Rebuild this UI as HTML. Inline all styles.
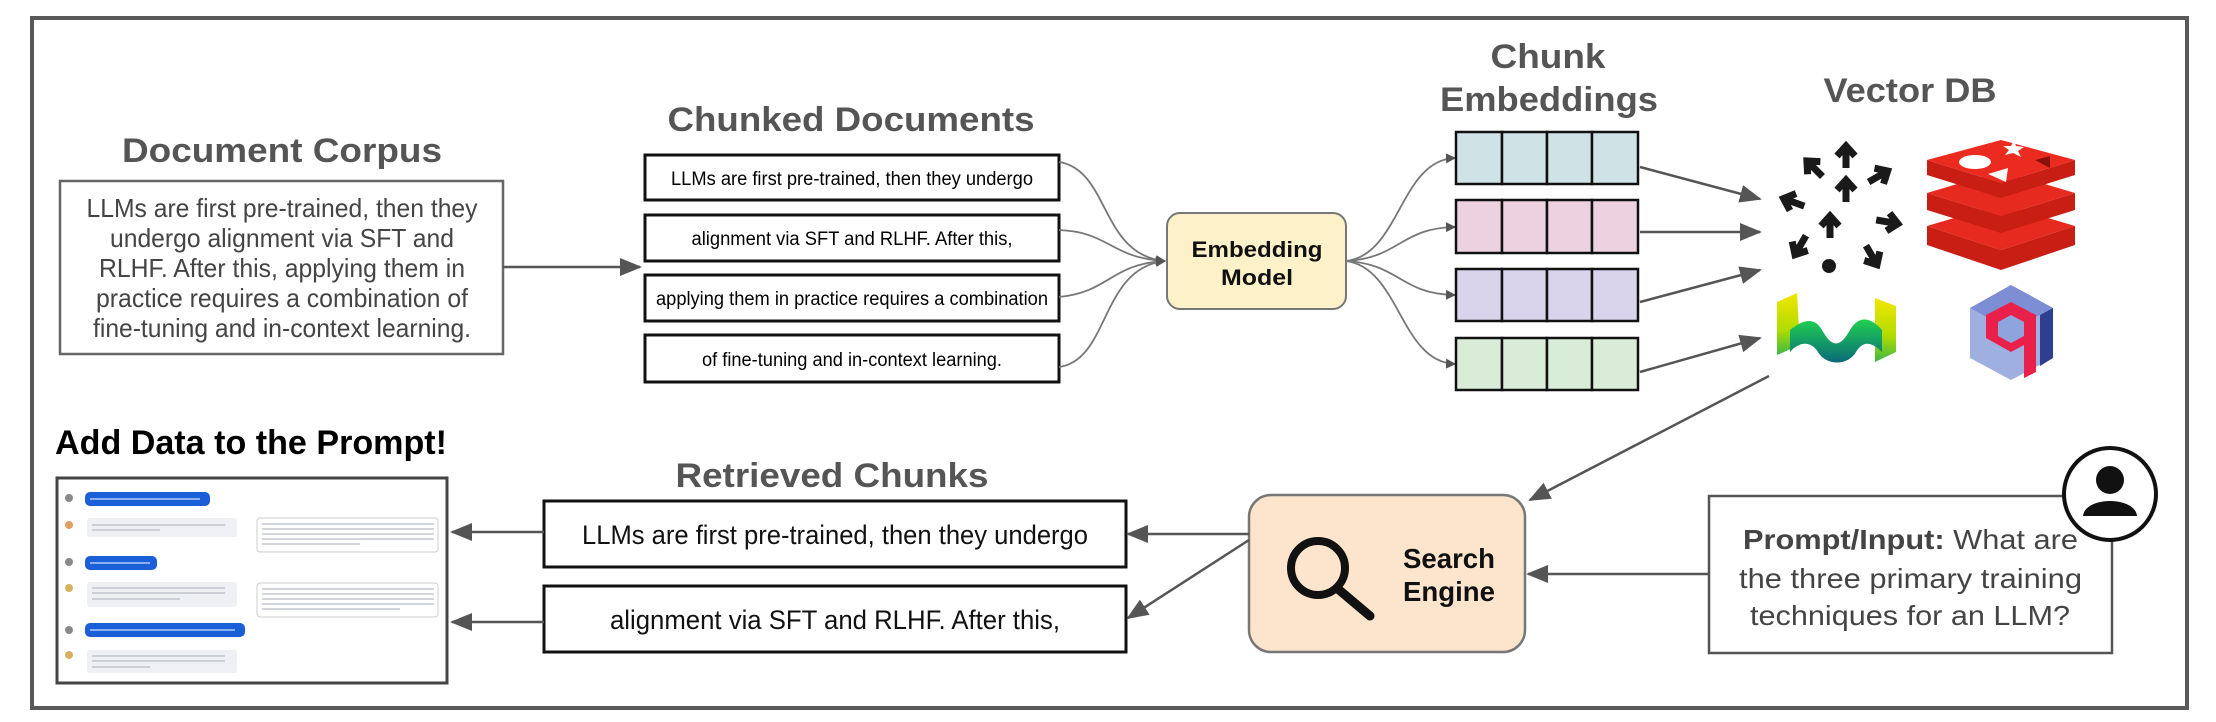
<!DOCTYPE html>
<html><head><meta charset="utf-8">
<style>
html,body{margin:0;padding:0;background:#fff;}
svg{display:block;}
text{font-family:"Liberation Sans",Arial,sans-serif;}
</style></head>
<body>
<svg width="2216" height="722" viewBox="0 0 2216 722" xmlns="http://www.w3.org/2000/svg">
<defs>
<marker id="ah" markerWidth="10" markerHeight="10" refX="9" refY="5" orient="auto" markerUnits="userSpaceOnUse"><path d="M0,0 L10,5 L0,10 z" fill="#555"/></marker>
<marker id="ahL" markerWidth="22" markerHeight="18" refX="20" refY="9" orient="auto" markerUnits="userSpaceOnUse"><path d="M0,0 L22,9 L0,18 z" fill="#555"/></marker>
<linearGradient id="wg" x1="0" y1="0" x2="0" y2="1"><stop offset="0" stop-color="#f2e600"/><stop offset="0.6" stop-color="#b0dc00"/><stop offset="1" stop-color="#3cb84a"/></linearGradient>
<linearGradient id="wg2" x1="0" y1="0" x2="0" y2="1"><stop offset="0" stop-color="#20d050"/><stop offset="1" stop-color="#0a6a7a"/></linearGradient>
<g id="arr"><path d="M0,12 L0,-8 M-9,0 L0,-10 L9,0" stroke="#1a1a1a" stroke-width="7" fill="none"/></g>
</defs>
<rect width="2216" height="722" fill="#fff"/>
<rect x="32" y="18" width="2155" height="690" fill="none" stroke="#595959" stroke-width="4"/>

<!-- Titles -->
<g font-weight="bold" fill="#555" font-size="34">
<text x="282" y="162" text-anchor="middle" textLength="320" lengthAdjust="spacingAndGlyphs">Document Corpus</text>
<text x="851" y="131" text-anchor="middle" textLength="367" lengthAdjust="spacingAndGlyphs">Chunked Documents</text>
<text x="1548" y="68" text-anchor="middle" textLength="115" lengthAdjust="spacingAndGlyphs">Chunk</text>
<text x="1549" y="111" text-anchor="middle" textLength="218" lengthAdjust="spacingAndGlyphs">Embeddings</text>
<text x="1910" y="102" text-anchor="middle" textLength="173" lengthAdjust="spacingAndGlyphs">Vector DB</text>
<text x="832" y="487" text-anchor="middle" textLength="313" lengthAdjust="spacingAndGlyphs">Retrieved Chunks</text>
</g>
<text x="55" y="454" font-weight="bold" fill="#000" font-size="34" textLength="392" lengthAdjust="spacingAndGlyphs">Add Data to the Prompt!</text>

<!-- Corpus box -->
<rect x="60" y="181" width="443" height="173" fill="#fff" stroke="#666" stroke-width="2.5"/>
<g fill="#444" font-size="26" text-anchor="middle">
<text x="282" y="217" textLength="391" lengthAdjust="spacingAndGlyphs">LLMs are first pre-trained, then they</text>
<text x="282" y="247" textLength="344" lengthAdjust="spacingAndGlyphs">undergo alignment via SFT and</text>
<text x="282" y="277" textLength="366" lengthAdjust="spacingAndGlyphs">RLHF. After this, applying them in</text>
<text x="282" y="307" textLength="372" lengthAdjust="spacingAndGlyphs">practice requires a combination of</text>
<text x="282" y="337" textLength="378" lengthAdjust="spacingAndGlyphs">fine-tuning and in-context learning.</text>
</g>
<line x1="503" y1="267" x2="640" y2="267" stroke="#555" stroke-width="2.5" marker-end="url(#ahL)"/>

<!-- Chunk boxes -->
<g fill="#fff" stroke="#111" stroke-width="3">
<rect x="645" y="155" width="414" height="45"/>
<rect x="645" y="215" width="414" height="46"/>
<rect x="645" y="275" width="414" height="46"/>
<rect x="645" y="335" width="414" height="47"/>
</g>
<g fill="#000" font-size="19" text-anchor="middle">
<text x="852" y="185" textLength="362" lengthAdjust="spacingAndGlyphs">LLMs are first pre-trained, then they undergo</text>
<text x="852" y="245" textLength="321" lengthAdjust="spacingAndGlyphs">alignment via SFT and RLHF. After this,</text>
<text x="852" y="305" textLength="392" lengthAdjust="spacingAndGlyphs">applying them in practice requires a combination</text>
<text x="852" y="366" textLength="300" lengthAdjust="spacingAndGlyphs">of fine-tuning and in-context learning.</text>
</g>
<g fill="none" stroke="#777" stroke-width="1.8">
<path d="M1059,162 C1110,170 1100,255 1165,261" marker-end="url(#ah)"/>
<path d="M1059,230 C1110,232 1110,258 1165,261" marker-end="url(#ah)"/>
<path d="M1059,297 C1110,292 1110,264 1165,261" marker-end="url(#ah)"/>
<path d="M1059,367 C1110,360 1100,268 1165,261" marker-end="url(#ah)"/>
</g>
<rect x="1167" y="213" width="179" height="96" rx="13" fill="#fdf1c9" stroke="#777" stroke-width="2"/>
<g font-weight="bold" font-size="22" text-anchor="middle" fill="#111">
<text x="1257" y="257" textLength="131" lengthAdjust="spacingAndGlyphs">Embedding</text>
<text x="1257" y="285" textLength="72" lengthAdjust="spacingAndGlyphs">Model</text>
</g>
<g fill="none" stroke="#777" stroke-width="1.8">
<path d="M1346,261 C1400,255 1400,160 1455,158" marker-end="url(#ah)"/>
<path d="M1346,261 C1400,258 1400,228 1455,227" marker-end="url(#ah)"/>
<path d="M1346,261 C1400,264 1400,294 1455,295" marker-end="url(#ah)"/>
<path d="M1346,261 C1400,268 1400,362 1455,364" marker-end="url(#ah)"/>
</g>
<g stroke="#111" stroke-width="2.5">
<g fill="#cfe3e7"><rect x="1456" y="132" width="46" height="52"/><rect x="1502" y="132" width="45" height="52"/><rect x="1547" y="132" width="45" height="52"/><rect x="1592" y="132" width="46" height="52"/></g>
<g fill="#ecd1de"><rect x="1456" y="200" width="46" height="53"/><rect x="1502" y="200" width="45" height="53"/><rect x="1547" y="200" width="45" height="53"/><rect x="1592" y="200" width="46" height="53"/></g>
<g fill="#dad3ec"><rect x="1456" y="269" width="46" height="52"/><rect x="1502" y="269" width="45" height="52"/><rect x="1547" y="269" width="45" height="52"/><rect x="1592" y="269" width="46" height="52"/></g>
<g fill="#d8ecd7"><rect x="1456" y="338" width="46" height="52"/><rect x="1502" y="338" width="45" height="52"/><rect x="1547" y="338" width="45" height="52"/><rect x="1592" y="338" width="46" height="52"/></g>
</g>
<g stroke="#555" stroke-width="2.5">
<line x1="1640" y1="167" x2="1760" y2="199" marker-end="url(#ahL)"/>
<line x1="1640" y1="232" x2="1760" y2="232" marker-end="url(#ahL)"/>
<line x1="1640" y1="302" x2="1760" y2="270" marker-end="url(#ahL)"/>
<line x1="1640" y1="372" x2="1760" y2="338" marker-end="url(#ahL)"/>
</g>

<!-- Graph-arrows icon -->
<use href="#arr" transform="translate(1846,156)"/>
<use href="#arr" transform="translate(1814,168) rotate(-45)"/>
<use href="#arr" transform="translate(1879,176) rotate(60)"/>
<use href="#arr" transform="translate(1793,202) rotate(-70)"/>
<use href="#arr" transform="translate(1846,190)"/>
<use href="#arr" transform="translate(1888,222) rotate(100)"/>
<use href="#arr" transform="translate(1830,226)"/>
<use href="#arr" transform="translate(1800,246) rotate(-150)"/>
<use href="#arr" transform="translate(1872,256) rotate(150)"/>
<circle cx="1829" cy="266" r="7" fill="#1a1a1a"/>

<!-- Redis -->
<g>
<path d="M1927,245 L2001,270 L2075,245 L2075,226 L2001,250 L1927,226 z" fill="#c81e14"/>
<path d="M1927,226 L2001,204 L2075,226 L2001,250 z" fill="#e62a1f"/>
<path d="M1927,210 L2001,233 L2075,210 L2075,193 L2001,216 L1927,193 z" fill="#c81e14"/>
<path d="M1927,193 L2001,171 L2075,193 L2001,216 z" fill="#e62a1f"/>
<path d="M1927,175 L2001,198 L2075,175 L2075,160 L2001,183 L1927,160 z" fill="#c81e14"/>
<path d="M1927,160 L2001,140 L2075,160 L2001,183 z" fill="#ec2b20"/>
<ellipse cx="1975" cy="162" rx="16" ry="7" fill="#fff"/>
<path d="M1988,174 L2008,168 L2006,182 z" fill="#fff"/>
<path d="M2005,155 L2009,150 L2003,146 L2011,146 L2014,140 L2016,146 L2024,147 L2018,151 L2021,157 L2013,153 z" fill="#fff"/>
<path d="M2035,160 L2050,156 L2050,168 z" fill="#8a100a"/>
</g>

<!-- Weaviate -->
<g>
<path d="M1777,302 L1797,293 L1800,345 L1777,355 z" fill="url(#wg)"/>
<path d="M1875,298 L1896,306 L1896,352 L1875,362 z" fill="url(#wg)"/>
<path d="M1790,330 C1805,318 1815,318 1822,330 C1832,348 1840,348 1850,330 C1858,316 1870,316 1882,330 L1882,352 C1870,340 1862,342 1856,352 C1848,366 1826,366 1818,352 C1812,342 1800,340 1790,352 z" fill="url(#wg2)"/>
</g>

<!-- Qdrant -->
<g>
<path d="M2011,285 L2053,308 L2053,358 L2011,380 L1970,358 L1970,308 z" fill="#9fb0e0"/>
<path d="M2011,285 L2053,308 L2011,330 L1970,308 z" fill="#7d8ed4"/>
<path d="M2040,315 L2053,308 L2053,358 L2040,366 z" fill="#2e3f8f"/>
<path d="M1986,315 L2011,302 L2036,315 L2036,372 L2024,378 L2024,345 L2011,352 L1986,338 z" fill="#e8204a"/>
<path d="M1998,322 L2011,315 L2024,322 L2024,336 L2011,343 L1998,336 z" fill="#8fa4dc"/>
</g>

<line x1="1769" y1="376" x2="1530" y2="500" stroke="#555" stroke-width="2.5" marker-end="url(#ahL)"/>

<!-- Search engine -->
<rect x="1249" y="495" width="276" height="157" rx="22" fill="#fce4cd" stroke="#777" stroke-width="2.5"/>
<circle cx="1318" cy="568" r="27" fill="none" stroke="#111" stroke-width="8"/>
<line x1="1338" y1="589" x2="1370" y2="616" stroke="#111" stroke-width="9" stroke-linecap="round"/>
<g font-weight="bold" font-size="28" fill="#111" text-anchor="middle">
<text x="1449" y="568" textLength="92" lengthAdjust="spacingAndGlyphs">Search</text>
<text x="1449" y="601" textLength="92" lengthAdjust="spacingAndGlyphs">Engine</text>
</g>

<!-- Prompt -->
<rect x="1709" y="496" width="403" height="157" fill="#fff" stroke="#555" stroke-width="2.5"/>
<g font-size="28" fill="#444">
<text x="1743" y="549" textLength="335" lengthAdjust="spacingAndGlyphs"><tspan font-weight="bold">Prompt/Input:</tspan> What are</text>
<text x="1739" y="588" textLength="343" lengthAdjust="spacingAndGlyphs">the three primary training</text>
<text x="1750" y="625" textLength="320" lengthAdjust="spacingAndGlyphs">techniques for an LLM?</text>
</g>
<circle cx="2110" cy="494" r="46" fill="#fff" stroke="#111" stroke-width="4"/>
<circle cx="2110" cy="480" r="14" fill="#111"/>
<path d="M2083,516 C2085,496 2135,496 2137,516 z" fill="#111"/>
<line x1="1709" y1="574" x2="1528" y2="574" stroke="#555" stroke-width="2.5" marker-end="url(#ahL)"/>

<!-- Retrieved chunks -->
<rect x="544" y="501" width="582" height="66" fill="#fff" stroke="#111" stroke-width="3"/>
<rect x="544" y="586" width="582" height="66" fill="#fff" stroke="#111" stroke-width="3"/>
<g font-size="27" fill="#111" text-anchor="middle">
<text x="835" y="544" textLength="506" lengthAdjust="spacingAndGlyphs">LLMs are first pre-trained, then they undergo</text>
<text x="835" y="629" textLength="450" lengthAdjust="spacingAndGlyphs">alignment via SFT and RLHF. After this,</text>
</g>
<line x1="1249" y1="534" x2="1128" y2="534" stroke="#555" stroke-width="2.5" marker-end="url(#ahL)"/>
<line x1="1249" y1="540" x2="1128" y2="618" stroke="#555" stroke-width="2.5" marker-end="url(#ahL)"/>
<line x1="544" y1="532" x2="452" y2="532" stroke="#555" stroke-width="2.5" marker-end="url(#ahL)"/>
<line x1="544" y1="622" x2="452" y2="622" stroke="#555" stroke-width="2.5" marker-end="url(#ahL)"/>

<!-- Chat screenshot -->
<rect x="57" y="478" width="390" height="205" fill="#fff" stroke="#444" stroke-width="3"/>
<g>
<circle cx="69" cy="498" r="4" fill="#888"/><circle cx="69" cy="525" r="4" fill="#e0a060"/>
<circle cx="69" cy="562" r="4" fill="#888"/><circle cx="69" cy="588" r="4" fill="#d8b060"/>
<circle cx="69" cy="630" r="4" fill="#888"/><circle cx="69" cy="655" r="4" fill="#d8b060"/>
<rect x="85" y="492" width="125" height="14" rx="5" fill="#1a5fd8"/>
<rect x="85" y="556" width="72" height="14" rx="5" fill="#1a5fd8"/>
<rect x="85" y="623" width="160" height="14" rx="5" fill="#1a5fd8"/>
<rect x="87" y="518" width="150" height="19" rx="3" fill="#eef0f3"/>
<rect x="87" y="582" width="150" height="25" rx="3" fill="#eef0f3"/>
<rect x="87" y="650" width="150" height="23" rx="3" fill="#eef0f3"/>
<rect x="257" y="518" width="181" height="34" rx="3" fill="#fff" stroke="#ccc"/>
<rect x="257" y="583" width="181" height="34" rx="3" fill="#fff" stroke="#ccc"/>
<g stroke="#b8bcc4" stroke-width="1.2">
<line x1="92" y1="525" x2="225" y2="525"/><line x1="92" y1="530" x2="160" y2="530"/>
<line x1="92" y1="588" x2="225" y2="588"/><line x1="92" y1="593" x2="225" y2="593"/><line x1="92" y1="599" x2="180" y2="599"/>
<line x1="92" y1="656" x2="225" y2="656"/><line x1="92" y1="661" x2="225" y2="661"/><line x1="92" y1="667" x2="150" y2="667"/>
<line x1="262" y1="524" x2="434" y2="524"/><line x1="262" y1="529" x2="434" y2="529"/><line x1="262" y1="534" x2="434" y2="534"/><line x1="262" y1="539" x2="434" y2="539"/><line x1="262" y1="544" x2="360" y2="544"/>
<line x1="262" y1="589" x2="434" y2="589"/><line x1="262" y1="594" x2="434" y2="594"/><line x1="262" y1="599" x2="434" y2="599"/><line x1="262" y1="604" x2="434" y2="604"/><line x1="262" y1="609" x2="400" y2="609"/>
</g>
<g stroke="#cfe0ff" stroke-width="1.2">
<line x1="90" y1="499" x2="200" y2="499"/><line x1="90" y1="563" x2="150" y2="563"/><line x1="90" y1="630" x2="235" y2="630"/>
</g>
</g>
</svg>
</body></html>
